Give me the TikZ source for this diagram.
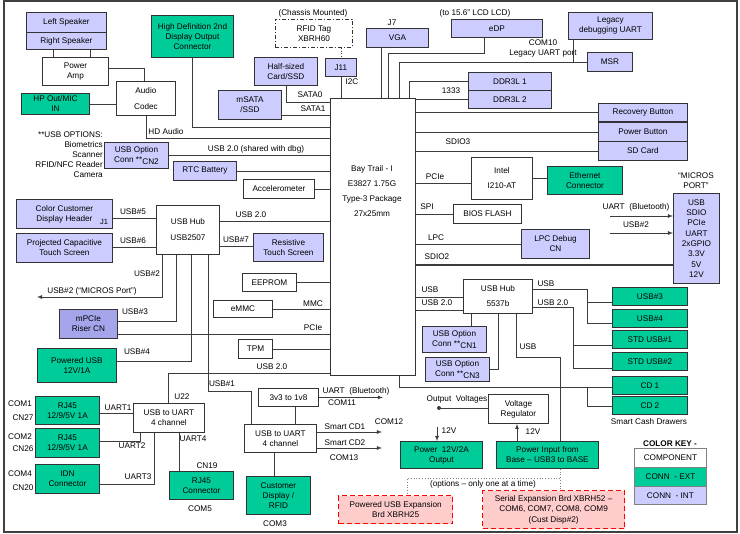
\documentclass[tikz,border=0pt]{standalone}
\usepackage{fontspec}
\setmainfont{Liberation Sans}
\definecolor{intc}{RGB}{204,204,255}
\definecolor{extc}{RGB}{0,204,153}
\definecolor{riserc}{RGB}{165,165,235}
\definecolor{optc}{RGB}{255,204,204}
\definecolor{wirec}{RGB}{60,60,60}
\tikzset{
  box/.style={draw=black!80, line width=0.9pt, anchor=north west, align=center, inner sep=1pt},
  comp/.style={box, fill=white},
  ext/.style={box, fill=extc},
  int/.style={box, fill=intc},
  riser/.style={box, fill=riserc},
  opt/.style={box, fill=optc, draw=red, line width=1.2pt, dash pattern=on 5pt off 3pt},
  sz/.style 2 args={minimum width=#1pt, minimum height=#2pt},
  lbl/.style={inner sep=0pt, align=center},
  wire/.style={color=wirec, line width=0.75pt}
}
\begin{document}
\begin{tikzpicture}[x=1pt, y=-1pt, every node/.style={font=\fontsize{8.2}{10}\selectfont}]
\useasboundingbox (0,0) rectangle (740,534);
\draw[line width=1.2pt, black!75] (4,1) rectangle (737,532);

% audio corner
\node[int, sz={80}{20}] (lspk) at (26,12) {Left Speaker};
\node[int, sz={80}{17}] (rspk) at (26,32) {Right Speaker};
\node[comp, sz={66}{28}] (pamp) at (42,57) {Power\\Amp};
\node[comp, sz={59}{34}] (codec) at (116,81) {Audio\\[6pt]Codec};
\node[ext, sz={68}{21}] (hpout) at (21,93) {HP Out/MIC\\IN};
\node[ext, sz={82}{42}] (hd2) at (151,15) {High Definition 2nd\\Display Output\\Connector};
\draw[wire] (rspk.south -| 53,0) -- (pamp.north -| 53,0);
\draw[wire] (rspk.south -| 90,0) -- (pamp.north -| 90,0);
\draw[wire] (pamp.east |- 0,68) -| (codec.north -| 144,0);
\draw[wire] (hpout.east) -- (hpout.east -| codec.west);

% the SoC
\node[comp, sz={85}{277}] (bay) at (330,98) {};
\node[lbl] (baytxt) at (372,191) {Bay Trail - I\\[5pt]E3827 1.75G\\[5pt]Type-3 Package\\[5pt]27x25mm};

% left of the SoC
\node[lbl, align=right, anchor=north east] (usbopts) at (103,132) {**USB OPTIONS:\\Biometrics\\Scanner\\RFID/NFC Reader\\Camera};
\node[int, sz={64}{26}] (cn2) at (104,142) {USB Option\\Conn **\raisebox{-1.5pt}{CN2}};
\node[int, sz={63}{19}] (rtc) at (173,161) {RTC Battery};
\node[comp, sz={71}{19}] (accel) at (243,179) {Accelerometer};
\node[int, sz={63}{28}] (halfssd) at (254,57) {Half-sized\\Card/SSD};
\node[int, sz={63}{29}] (msata) at (218,90) {mSATA\\/SSD};
\node[lbl] (chassis) at (313,13) {(Chassis Mounted)};
\node[comp, sz={77}{28}, dash pattern=on 4pt off 2pt on 1pt off 2pt] (rfid) at (275,19) {RFID Tag\\XBRH60};
\node[int, sz={31}{18}] (j11) at (325,58) {J11};
\draw[wire] (hd2.south) |- (bay.west |- 0,127);
\draw[wire] (codec.south) |- (bay.west |- 0,138);
\node[lbl] (hdaudio) at (166,132) {HD Audio};
\draw[wire] (cn2.east |- 0,155) -- (bay.west |- 0,155);
\node[lbl] (sharedlbl) at (256,149) {USB 2.0 (shared with dbg)};
\draw[wire] (rtc.east) -- (rtc.east -| bay.west);
\draw[wire] (accel.east) -- (accel.east -| bay.west);
\draw[wire] (halfssd.south -| 286,0) |- (bay.west |- 0,102);
\node[lbl] (sata0) at (310,95) {SATA0};
\draw[wire] (msata.east |- 0,115) -- (bay.west |- 0,115);
\node[lbl] (sata1) at (313,109) {SATA1};
\draw[wire, dotted, thick] (rfid.south -| j11.north) -- (j11.north);
\draw[wire] (j11.south) -- (j11.south |- bay.north);
\node[lbl] (i2c) at (352,82) {I2C};

% top of the SoC
\node[lbl] (j7) at (392,23) {J7};
\node[int, sz={62}{19}] (vga) at (366,28) {VGA};
\node[lbl] (lcdlbl) at (475,13) {(to 15.6" LCD LCD)};
\node[int, sz={91}{18}] (edp) at (451,19) {eDP};
\node[int, sz={84}{27}] (legacy) at (568,12) {Legacy\\debugging UART};
\node[int, sz={45}{19}] (msr) at (587,52) {MSR};
\node[lbl] (com10) at (543,48) {COM10\\Legacy UART\ port};
\node[int, sz={83}{18}] (ddr1) at (468,72) {DDR3L 1};
\node[int, sz={83}{18}] (ddr2) at (468,90) {DDR3L 2};
\draw[wire] (vga.south -| 381,0) -- (bay.north -| 381,0);
\draw[wire] (edp.south -| 484,0) |- (388,53) -- (bay.north -| 388,0);
\draw[wire] (msr.west) -| (bay.north -| 399,0);
\draw[wire] (legacy.south -| 573,0) -- (msr.west -| 573,0);
\draw[wire] (ddr1.west) -| (bay.north -| 409,0);
\draw[wire] (ddr2.west) -- (ddr2.west -| bay.east);
\node[lbl] (ddrspd) at (451,91) {1333};

% right of the SoC
\node[int, sz={89}{18}] (recov) at (598,103) {Recovery Button};
\node[int, sz={89}{19}] (pwrbtn) at (598,122) {Power Button};
\node[int, sz={89}{19}] (sdcard) at (598,141) {SD Card};
\draw[wire] (bay.east |- recov.west) -- (recov.west);
\draw[wire] (bay.east |- pwrbtn.west) -- (pwrbtn.west);
\draw[wire] (bay.east |- sdcard.west) -- (sdcard.west);
\node[lbl] (sdio3) at (458,142) {SDIO3};
\node[comp, sz={61}{42}] (intel) at (471,157) {Intel\\[5pt]I210-AT};
\node[ext, sz={75}{28}] (eth) at (547,166) {Ethernet\\Connector};
\draw[wire] (bay.east |- 0,183) -- (intel.west |- 0,183);
\node[lbl] (pcie1) at (435,177) {PCIe};
\draw[wire] (intel.east) -- (intel.east -| eth.west);
\node[comp, sz={68}{19}] (bios) at (453,204) {BIOS FLASH};
\draw[wire] (bay.east |- bios.west) -- (bios.west);
\node[lbl] (spi) at (427,207) {SPI};
\node[int, sz={68}{29}] (lpcdbg) at (521,229) {LPC Debug\\CN};
\draw[wire] (bay.east |- lpcdbg.west) -- (lpcdbg.west);
\node[lbl] (lpc) at (436,238) {LPC};
\node[lbl] (microsttl) at (696,181) {``MICROS\\PORT''};
\node[int, sz={46}{90}, font=\fontsize{8.2}{10.3}\selectfont] (micros) at (673,193) {USB\\SDIO\\PCIe\\UART\\2xGPIO\\3.3V\\5V\\12V};
\draw[wire, line width=1.6pt] (bay.east |- 0,265) -- (micros.west |- 0,265);
\node[lbl] (sdio2) at (437,257) {SDIO2};
\coordinate (btsrc) at (610,216);
\coordinate (usb2src) at (610,233);
\draw[wire, -latex] (btsrc) -- (btsrc -| micros.west);
\draw[wire, -latex] (usb2src) -- (usb2src -| micros.west);
\node[lbl] (btlbl) at (636,207) {UART\ \ (Bluetooth)};
\node[lbl] (usb2lbl) at (636,225) {USB\#2};

% second hub
\node[comp, sz={69}{34}] (hub2) at (463,279) {USB Hub\\[5pt]5537b};
\node[int, sz={64}{26}] (cn1) at (422,326) {USB Option\\Conn **\raisebox{-1.5pt}{CN1}};
\node[int, sz={64}{24}] (cn3) at (425,357) {USB Option\\Conn **\raisebox{-1.5pt}{CN3}};
\draw[wire] (bay.east |- 0,297) -- (hub2.west |- 0,297);
\node[lbl] (hubusb) at (430,290) {USB};
\draw[wire] (bay.east |- 0,310) -- (hub2.west |- 0,310);
\node[lbl] (hubusb20) at (437,303) {USB 2.0};
\draw[wire] (hub2.south -| 471,0) -- (cn1.north -| 471,0);
\draw[wire] (hub2.south -| 498,0) |- (cn3.east);
\node[ext, sz={75}{18}] (usb3) at (612,287) {USB\#3};
\node[ext, sz={75}{18}] (usb4) at (612,309) {USB\#4};
\node[ext, sz={75}{18}] (std1) at (612,330) {STD USB\#1};
\node[ext, sz={75}{18}] (std2) at (612,352) {STD USB\#2};
\draw[wire] (hub2.east |- 0,289) -| (587,323) -- (usb4.west |- 0,323);
\draw[wire] (587,302) -- (usb3.west |- 0,302);
\node[lbl] (usbr) at (546,284) {USB};
\draw[wire] (hub2.east |- 0,307) -| (573,368) -- (std2.west |- 0,368);
\draw[wire] (573,345) -- (std1.west |- 0,345);
\node[lbl] (usb20r) at (553,303) {USB 2.0};
\node[ext, sz={75}{18}] (cd1) at (612,376) {CD 1};
\node[ext, sz={75}{18}] (cd2) at (612,396) {CD 2};
\node[lbl] (cashlbl) at (649,422) {Smart Cash Drawers};
\draw[wire] (bay.south -| 399,0) |- (cd1.west |- 0,387);
\draw[wire] (587,387) |- (cd2.west |- 0,406);

% power
\node[comp, sz={60}{29}] (vreg) at (488,394) {Voltage\\Regulator};
\node[ext, sz={102}{27}] (pwrin) at (496,441) {Power Input from\\Base -- USB3 to BASE};
\node[ext, sz={82}{27}] (pwrout) at (400,441) {Power\ \ 12V/2A\\Output};
\draw[wire] (hub2.south -| 516,0) |- (560,357) -- (pwrin.north -| 560,0);
\node[lbl] (usbdown) at (528,347) {USB};
\coordinate (vdot) at (439,408);
\draw[wire] (vreg.west |- vdot) -- (vdot);
\fill[wirec] (vdot) circle (2pt);
\node[lbl] (outv) at (457,399) {Output\ \ Voltages};
\draw[wire, -latex] (437,427) -- (pwrout.north -| 437,0);
\node[lbl] (v12a) at (449,431) {12V};
\draw[wire, -latex] (pwrin.north -| 517,0) -- (vreg.south -| 517,0);
\node[lbl] (v12b) at (533,432) {12V};

% option boards
\node[opt, sz={114}{28}] (pusbexp) at (338,495) {Powered USB Expansion\\Brd XBRH25};
\node[opt, sz={142}{38}, font=\fontsize{8.2}{10.5}\selectfont] (serexp) at (482,490) {Serial Expansion Brd XBRH52 --\\COM6, COM7, COM8, COM9\\(Cust Disp\#2)};
\draw[gray, dotted, thick] (pwrin.south -| 560,0) -- (serexp.north -| 560,0);
\draw[gray, dotted, thick] (560,478) -| (pusbexp.north -| 407,0);
\node[lbl] (optlbl) at (483,484) {(options -- only one at a time)};

% colour key
\node[lbl, font=\bfseries\fontsize{8.2}{10}\selectfont] (keyttl) at (670,444) {COLOR KEY -};
\node[comp, sz={72}{19}, draw=gray] (keycomp) at (634,448) {COMPONENT};
\node[ext, sz={72}{19}, draw=gray] (keyext) at (634,467) {CONN\ \ - EXT};
\node[int, sz={72}{18}, draw=gray] (keyint) at (634,486) {CONN\ \ - INT};

% first hub
\node[int, sz={96}{29}] (colordisp) at (16,199) {Color Customer\\Display Header};
\node[lbl, font=\fontsize{7.5}{9}\selectfont] (j1) at (104,222) {J1};
\node[int, sz={96}{29}] (pcap) at (16,233) {Projected Capacitive\\Touch Screen};
\node[comp, sz={63}{49}] (hub1) at (156,205) {USB Hub\\[6pt]USB2507};
\node[int, sz={70}{28}] (rts) at (253,233) {Resistive\\Touch Screen};
\node[comp, sz={54}{18}] (eeprom) at (242,273) {EEPROM};
\node[comp, sz={59}{17}] (emmc) at (213,300) {eMMC};
\node[comp, sz={34}{19}] (tpm) at (238,339) {TPM};
\node[riser, sz={58}{29}] (mpcie) at (59,309) {mPCIe\\Riser CN};
\node[ext, sz={79}{34}] (pusb) at (37,348) {Powered USB\\12V/1A};
\draw[wire] (colordisp.east |- 0,218) -- (hub1.west |- 0,218);
\node[lbl] (usb5) at (133,212) {USB\#5};
\draw[wire] (pcap.east |- 0,247) -- (hub1.west |- 0,247);
\node[lbl] (usb6) at (133,241) {USB\#6};
\draw[wire] (hub1.east |- 0,221) -- (bay.west |- 0,221);
\node[lbl] (usb20a) at (251,215) {USB 2.0};
\draw[wire] (hub1.east |- 0,246) -- (rts.west |- 0,246);
\node[lbl] (usb7) at (236,240) {USB\#7};
\coordinate (mport) at (37,297);
\draw[wire, -latex] (hub1.south -| 162,0) |- (mport);
\node[lbl] (usb2a) at (147,274) {USB\#2};
\node[lbl] (usb2b) at (92,291) {USB\#2 (``MICROS Port'')};
\draw[wire] (hub1.south -| 176,0) |- (mpcie.east |- 0,321);
\node[lbl] (usb3a) at (135,312) {USB\#3};
\draw[wire] (mpcie.east |- 0,334) -- (bay.west |- 0,334);
\node[lbl] (pcie2) at (313,328) {PCIe};
\draw[wire] (hub1.south -| 191,0) |- (pusb.east |- 0,361);
\node[lbl] (usb4a) at (137,352) {USB\#4};
\draw[wire] (eeprom.east) -- (eeprom.east -| bay.west);
\draw[wire] (emmc.east) -- (emmc.east -| bay.west);
\node[lbl] (mmc) at (313,304) {MMC};
\draw[wire] (tpm.east) -- (tpm.east -| bay.west);

% serial ports
\node[comp, sz={71}{29}] (u22) at (133,403) {USB to UART\\4 channel};
\node[lbl] (u22lbl) at (182,397) {U22};
\node[ext, sz={64}{28}] (rj1) at (35,396) {RJ45\\12/9/5V 1A};
\node[ext, sz={64}{29}] (rj2) at (35,428) {RJ45\\12/9/5V 1A};
\node[ext, sz={64}{29}] (idn) at (35,464) {IDN\\Connector};
\node[ext, sz={64}{28}] (rj5) at (169,471) {RJ45\\Connector};
\node[lbl] (com1) at (20,404) {COM1};
\node[lbl] (cn27) at (23,418) {CN27};
\node[lbl] (com2) at (20,437) {COM2};
\node[lbl] (cn26) at (23,449) {CN26};
\node[lbl] (com4) at (20,474) {COM4};
\node[lbl] (cn20) at (23,488) {CN20};
\node[lbl] (cn19) at (207,466) {CN19};
\node[lbl] (com5) at (200,509) {COM5};
\draw[wire] (bay.west |- 0,373) -| (u22.north -| 168,0);
\node[lbl] (usb20b) at (272,367) {USB 2.0};
\draw[wire] (rj1.east |- 0,413) -- (u22.west |- 0,413);
\node[lbl] (uart1) at (118,408) {UART1};
\draw[wire] (u22.south -| 140,0) |- (rj2.east |- 0,441);
\node[lbl] (uart2) at (132,446) {UART2};
\draw[wire] (u22.south -| 154,0) |- (idn.east |- 0,484);
\node[lbl] (uart3) at (138,477) {UART3};
\draw[wire] (u22.south -| 179,0) -- (rj5.north -| 179,0);
\node[lbl] (uart4) at (193,439) {UART4};

% bluetooth and cash drawers
\node[comp, sz={60}{18}] (lvl) at (258,388) {3v3 to 1v8};
\node[comp, sz={72}{28}] (u2) at (244,424) {USB to UART\\4 channel};
\node[ext, sz={64}{38}] (custdisp) at (246,476) {Customer\\Display /\\RFID};
\node[lbl] (com3) at (275,524) {COM3};
\draw[wire] (hub1.south -| 208,0) |- (251,391) -- (u2.north -| 251,0);
\node[lbl] (usb1) at (222,384) {USB\#1};
\draw[wire] (lvl.south -| 295,0) -- (u2.north -| 295,0);
\draw[wire, -latex] (lvl.east) -- ++(64,0);
\node[lbl] (bt2) at (356,391) {UART\ \ (Bluetooth)};
\node[lbl] (com11) at (342,403) {COM11};
\draw[wire, -latex] (u2.east |- 0,432) -- (382,432);
\node[lbl] (scd1) at (345,427) {Smart CD1};
\node[lbl] (com12) at (389,422) {COM12};
\draw[wire, -latex] (u2.east |- 0,448) -- (382,448);
\node[lbl] (scd2) at (345,443) {Smart CD2};
\node[lbl] (com13) at (344,458) {COM13};
\draw[wire] (u2.south -| 274,0) -- (custdisp.north -| 274,0);
\end{tikzpicture}
\end{document}
